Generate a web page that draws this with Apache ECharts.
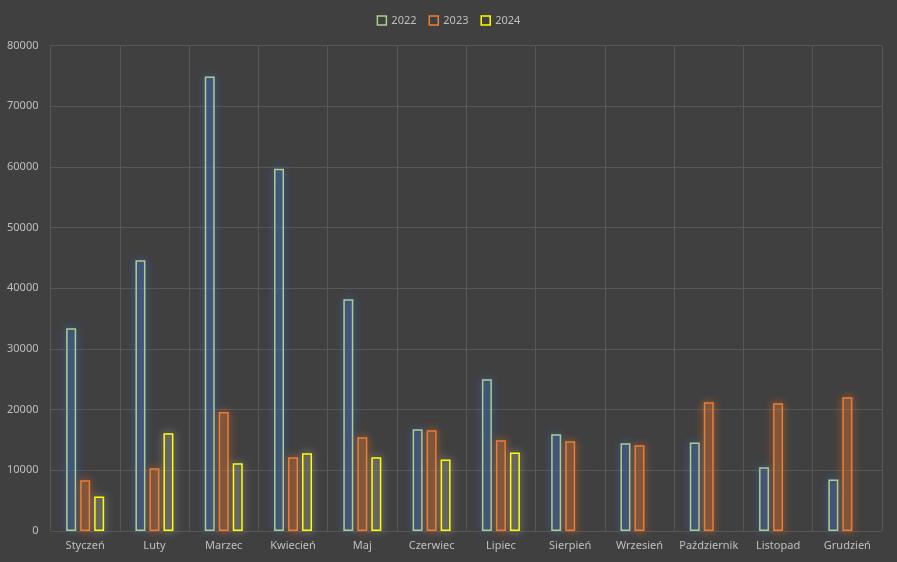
<!DOCTYPE html>
<html>
<head>
<meta charset="utf-8">
<script src="https://cdn.jsdelivr.net/npm/echarts@6/dist/echarts.min.js"></script>
<style>
html,body{margin:0;padding:0;background:#404040;}
#c{width:897px;height:562px;}
</style>
</head>
<body>
<div id="c"></div>
<script>
var categories = ['Styczeń','Luty','Marzec','Kwiecień','Maj','Czerwiec','Lipiec','Sierpień','Wrzesień','Październik','Listopad','Grudzień'];
var seriesNames = ['2022','2023','2024'];
var values2022 = [33400, 44600, 74900, 59700, 38200, 16750, 25000, 15950, 14450, 14600, 10500, 8500];
var values2023 = [8350, 10330, 19600, 12150, 15450, 16600, 14950, 14800, 14150, 21200, 21050, 22050];
var values2024 = [5700, 16100, 11150, 12800, 12150, 11800, 12950, null, null, null, null, null];
var yTicks = [0, 10000, 20000, 30000, 40000, 50000, 60000, 70000, 80000];

var borderColors = ['#A9D18E', '#ED7D31', '#FFFF00'];
var fillColors = ['rgba(68,114,196,0.22)', 'rgba(237,125,49,0.16)', 'rgba(160,160,160,0.12)'];
var glowColors = ['rgba(68,114,196,1)', 'rgba(237,125,49,1)', 'rgba(200,200,200,0.9)'];
var allValues = [values2022, values2023, values2024];

var chart = echarts.init(document.getElementById('c'), null, {renderer: 'canvas'});

var series = seriesNames.map(function (name, i) {
  return {
    name: name,
    type: 'bar',
    barWidth: 10,
    barGap: '40%',
    data: allValues[i],
    itemStyle: {
      color: fillColors[i],
      borderColor: borderColors[i],
      borderWidth: 1.5,
      shadowBlur: 10,
      shadowColor: glowColors[i]
    },
    emphasis: {disabled: true}
  };
});

chart.setOption({
  backgroundColor: '#404040',
  animation: false,
  legend: {
    top: 10,
    left: 'center',
    itemWidth: 9,
    itemHeight: 9,
    itemGap: 12,
    icon: 'rect',
    textStyle: {color: '#bfbfbf', fontSize: 11, fontFamily: 'Noto Sans'},
    data: seriesNames.map(function (n, i) {
      return {name: n, itemStyle: {color: 'rgba(0,0,0,0)', borderColor: borderColors[i], borderWidth: 1.5, shadowBlur: 0}};
    })
  },
  grid: {left: 50.5, right: 15, top: 45.5, bottom: 31, containLabel: false},
  xAxis: {
    type: 'category',
    data: categories,
    axisLine: {show: false},
    axisTick: {show: false},
    axisLabel: {color: '#bfbfbf', fontSize: 11, fontFamily: 'Noto Sans', margin: 9, interval: 0},
    splitLine: {show: true, interval: 0, lineStyle: {color: '#575757', width: 1}}
  },
  yAxis: {
    type: 'value',
    min: yTicks[0],
    max: yTicks[yTicks.length - 1],
    interval: yTicks[1] - yTicks[0],
    axisLine: {show: false},
    axisTick: {show: false},
    axisLabel: {color: '#bfbfbf', fontSize: 11, fontFamily: 'Noto Sans', margin: 12, formatter: function (v) { return String(v); }},
    splitLine: {show: true, lineStyle: {color: '#575757', width: 1}}
  },
  series: series
});
</script>
</body>
</html>
